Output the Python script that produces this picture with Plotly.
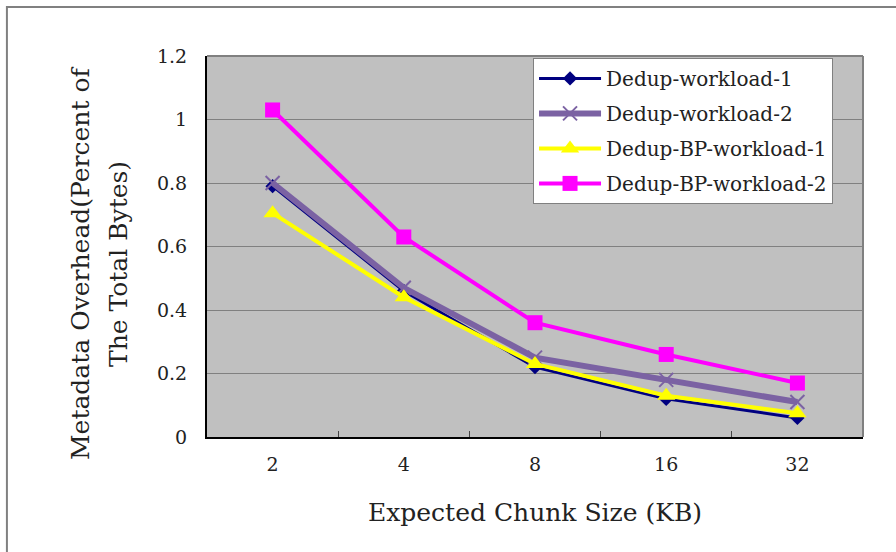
import plotly.graph_objects as go

chunk_sizes = ["2", "4", "8", "16", "32"]
dedup_w1 = [0.79, 0.46, 0.22, 0.12, 0.06]
dedup_w2 = [0.80, 0.47, 0.25, 0.18, 0.11]
dedup_bp_w1 = [0.705, 0.44, 0.23, 0.13, 0.075]
dedup_bp_w2 = [1.03, 0.63, 0.36, 0.26, 0.17]
y_ticks = [0, 0.2, 0.4, 0.6, 0.8, 1.0, 1.2]
y_tick_text = ["0", "0.2", "0.4", "0.6", "0.8", "1", "1.2"]
y_title_lines = ["Metadata Overhead(Percent of", "The Total Bytes)"]

FONT = "DejaVu Serif"
TEXT = "#222222"

fig = go.Figure()
fig.add_trace(go.Scatter(
    x=chunk_sizes, y=dedup_w1, name="Dedup-workload-1", mode="lines+markers",
    legendgroup="a",
    line=dict(color="#000080", width=3),
    marker=dict(symbol="diamond", size=11, color="#000080")))
fig.add_trace(go.Scatter(
    x=chunk_sizes, y=dedup_w2, name="Dedup-workload-2", mode="lines+markers",
    legendgroup="b",
    line=dict(color="#7B62A3", width=6),
    marker=dict(symbol="x-thin", size=14, line=dict(color="#7B62A3", width=2))))
fig.add_trace(go.Scatter(
    x=chunk_sizes, y=dedup_bp_w1, name="Dedup-BP-workload-1", mode="lines+markers",
    legendgroup="c",
    line=dict(color="#FFFF00", width=4),
    marker=dict(symbol="triangle-up", size=16, color="#FFFF00")))
fig.add_trace(go.Scatter(
    x=chunk_sizes, y=dedup_bp_w2, name="Dedup-BP-workload-2", mode="lines+markers",
    legendgroup="d",
    line=dict(color="#FF00FF", width=4),
    marker=dict(symbol="square", size=15, color="#FF00FF")))

fig.update_layout(
    width=896, height=552,
    margin=dict(l=207, r=33, t=56, b=115),
    paper_bgcolor="white", plot_bgcolor="#C0C0C0",
    font=dict(family=FONT, color=TEXT),
    showlegend=True,
    legend=dict(
        x=0.497, y=0.995, xanchor="left", yanchor="top",
        bgcolor="white", bordercolor="#808080", borderwidth=1,
        font=dict(family=FONT, size=20, color=TEXT),
        tracegroupgap=6, itemwidth=62),
    xaxis=dict(
        type="category", range=[-0.5, 4.5],
        showgrid=False, showline=True, linecolor="black", linewidth=2,
        ticks="inside", tickson="boundaries", ticklen=6, tickcolor="#444444",
        tickfont=dict(size=19, family=FONT, color=TEXT),
        ticklabelstandoff=9,
        title=dict(text="Expected Chunk Size (KB)", font=dict(size=25, family=FONT, color=TEXT),
                   standoff=30)),
    yaxis=dict(
        range=[0, 1.2], tickvals=y_ticks, ticktext=y_tick_text,
        showgrid=True, gridcolor="#808080", gridwidth=1,
        showline=True, linecolor="black", linewidth=2,
        ticks="", tickfont=dict(size=19, family=FONT, color=TEXT),
        ticklabelstandoff=14,
        zeroline=False),
)

# two-line rotated y-axis title
for line_text, x_px in zip(y_title_lines, [80, 118]):
    fig.add_annotation(
        text=line_text, textangle=-90, showarrow=False,
        xref="paper", yref="paper",
        x=(x_px - 207) / 656, y=(437 - 264) / 381,
        xanchor="center", yanchor="middle",
        font=dict(size=25, family=FONT, color=TEXT))

# plot-area frame (top and right edges) and outer chart border
fig.add_shape(type="line", xref="paper", yref="paper", x0=0, x1=1, y0=1, y1=1,
              line=dict(color="#808080", width=2))
fig.add_shape(type="line", xref="paper", yref="paper", x0=1, x1=1, y0=0, y1=1,
              line=dict(color="#808080", width=2))
fig.add_shape(type="rect", xref="paper", yref="paper",
              x0=-0.305, x1=2, y0=-2, y1=1.1286,
              line=dict(color="#808080", width=2), layer="below")

fig.write_html("out.html")
